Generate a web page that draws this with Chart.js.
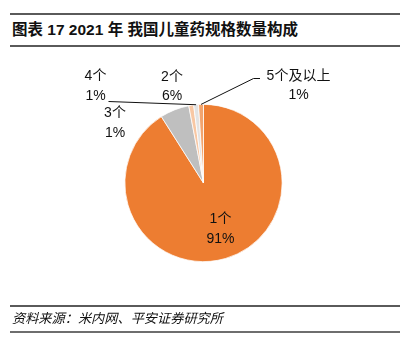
<!DOCTYPE html>
<html>
<head>
<meta charset="utf-8">
<script src="https://cdn.jsdelivr.net/npm/chart.js@4/dist/chart.umd.min.js"></script>
<style>
  html, body { margin: 0; padding: 0; background: #fff; }
  body { width: 408px; height: 344px; position: relative; overflow: hidden;
         font-family: "Liberation Sans", Arial, "Noto Sans CJK SC", sans-serif; color: #111; }
  .rule { position: absolute; left: 10px; width: 390px; height: 2px; background: #5a5a5a; }
  #title { position: absolute; left: 12px; top: 17px; font-size: 15.5px; font-weight: bold; white-space: nowrap; }
  #source { position: absolute; left: 12px; top: 308px; font-size: 13.2px; font-style: italic; white-space: nowrap; }
  #wrap { position: absolute; left: 0; top: 0; width: 408px; height: 344px; }
</style>
</head>
<body>
<div class="rule" style="top:13px"></div>
<div id="title">图表 17 2021 年 我国儿童药规格数量构成</div>
<div class="rule" style="top:45px"></div>
<div id="wrap"><canvas id="pie"></canvas></div>
<div class="rule" style="top:305px"></div>
<div id="source">资料来源：米内网、平安证券研究所</div>
<div class="rule" style="top:331px; background:#6e6e6e"></div>

<script>
// share of children's drug products by number of specifications
const categories = ['1个', '2个', '3个', '4个', '5个及以上'];
const shares = [91, 6, 1, 1, 1];

const sliceColors = ['#ED7D31', '#BFBFBF', '#F8C7A3', '#E3E3E3', '#F2A46E'];

// label centre offsets from the pie centre, and optional leader line anchors
const labelLayout = [
    { dx: 17, dy: 46 },
    { dx: -31.5, dy: -96.5 },
    { dx: -88.5, dy: -60 },
    { dx: -108, dy: -97, lead: [{ x: 13, y: 15.5 }] },
    { dx: 95, dy: -97.5, lead: [{ x: -38.5, y: -7 }, { x: -45, y: -7 }] },
];

const sliceLabels = {
    id: 'sliceLabels',
    afterDatasetsDraw(chart) {
        const ctx = chart.ctx;
        const arcs = chart.getDatasetMeta(0).data;
        ctx.save();
        ctx.font = '14px "Liberation Sans", Arial, "Noto Sans CJK SC", sans-serif';
        ctx.fillStyle = '#111';
        ctx.textAlign = 'center';
        ctx.textBaseline = 'middle';
        arcs.forEach((arc, i) => {
            const p = arc.getProps(['x', 'y', 'startAngle', 'endAngle', 'outerRadius']);
            const lay = labelLayout[i];
            const lx = p.x + lay.dx;
            const ly = p.y + lay.dy;
            ctx.fillText(categories[i], lx, ly - 9.5);
            ctx.fillText(shares[i] + '%', lx, ly + 10);

            if (lay.lead) {
                const mid = (p.startAngle + p.endAngle) / 2;
                const ex = p.x + Math.cos(mid) * p.outerRadius;
                const ey = p.y + Math.sin(mid) * p.outerRadius;
                ctx.beginPath();
                ctx.strokeStyle = '#111';
                ctx.lineWidth = 1;
                ctx.moveTo(lx + lay.lead[0].x, ly + lay.lead[0].y);
                for (let k = 1; k < lay.lead.length; k++) {
                    ctx.lineTo(lx + lay.lead[k].x, ly + lay.lead[k].y);
                }
                ctx.lineTo(ex, ey);
                ctx.stroke();
            }
        });
        ctx.restore();
    }
};

new Chart(document.getElementById('pie'), {
    type: 'pie',
    data: {
        labels: categories,
        datasets: [{
            data: shares,
            backgroundColor: sliceColors,
            borderColor: '#ffffff',
            borderWidth: 0.75,
        }],
    },
    options: {
        responsive: true,
        maintainAspectRatio: false,
        animation: false,
        layout: { padding: { left: 124.5, right: 125.5, top: 104, bottom: 82 } },
        plugins: {
            legend: { display: false },
            tooltip: { enabled: false },
        },
    },
    plugins: [sliceLabels],
});
</script>
</body>
</html>
